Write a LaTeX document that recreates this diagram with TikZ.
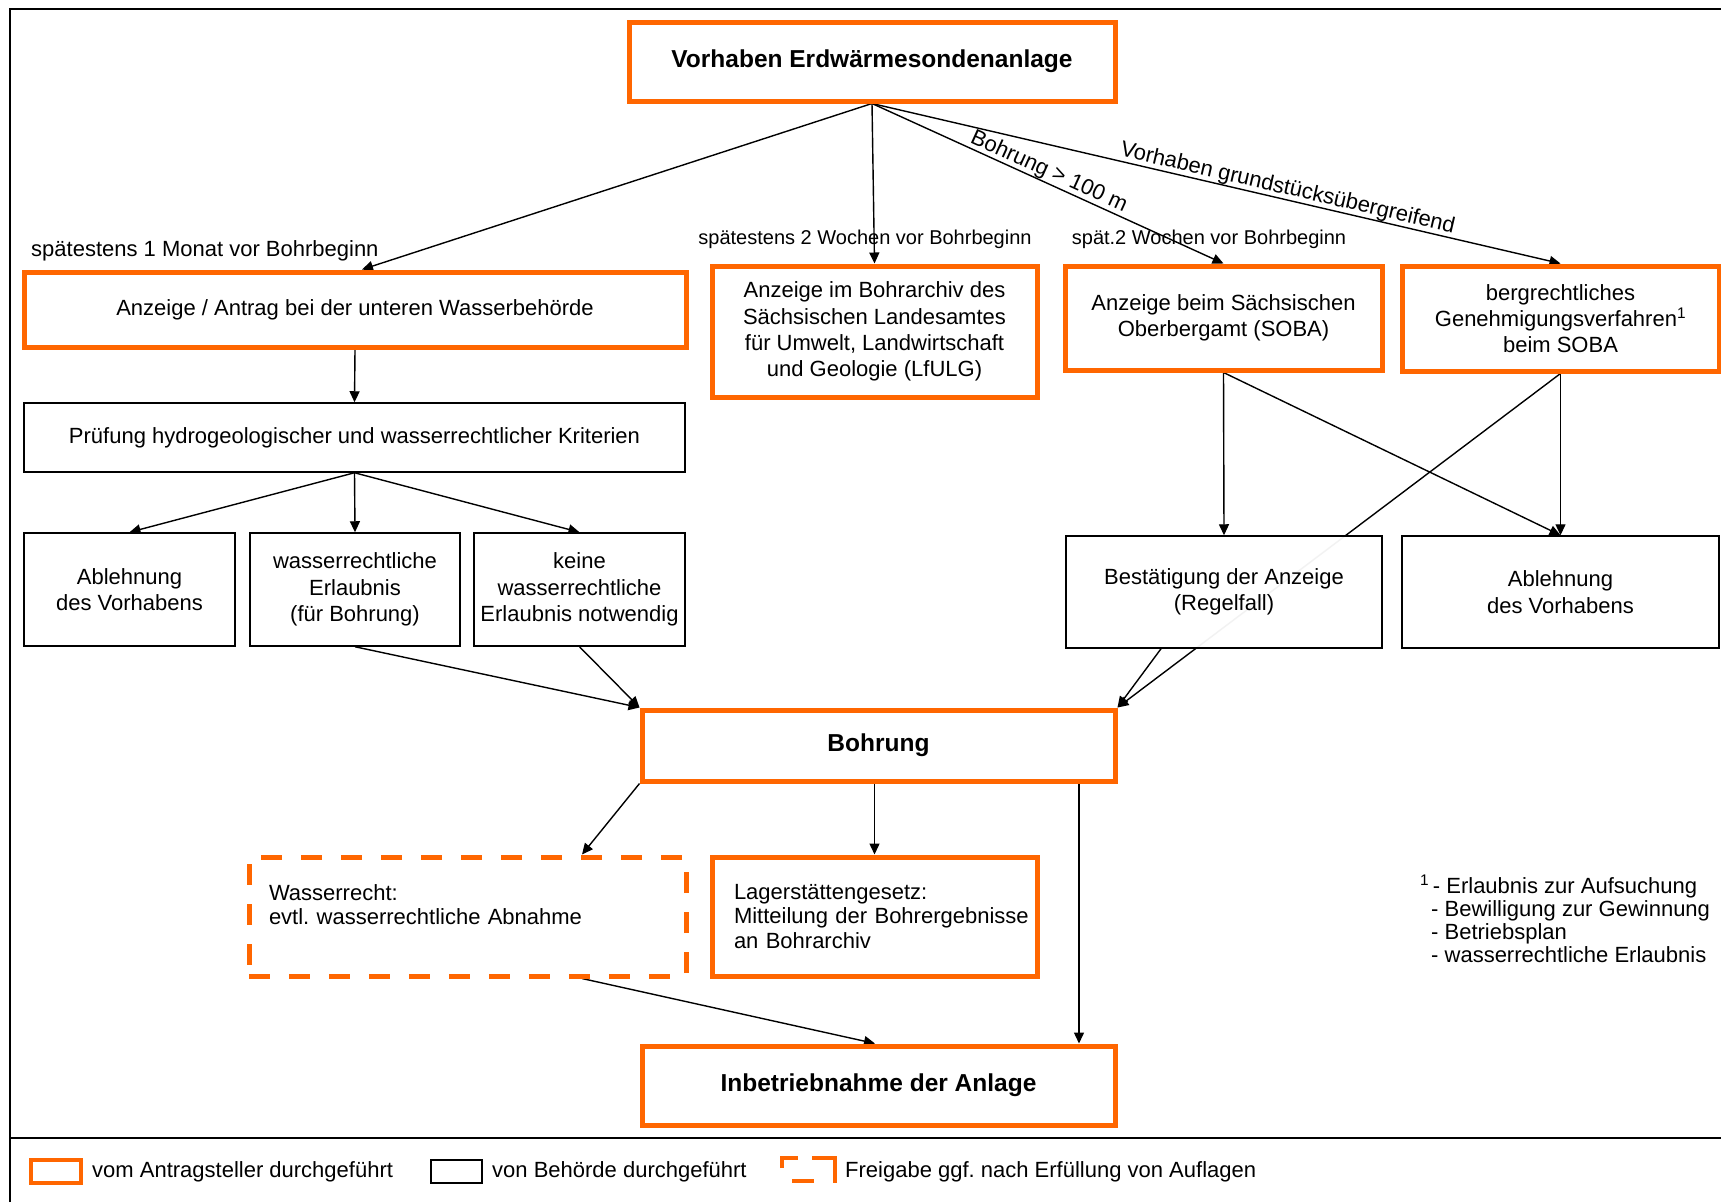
\documentclass[tikz,border=0pt]{standalone}
\usepackage{fontspec}
\setmainfont{Liberation Sans}
\usetikzlibrary{arrows.meta,backgrounds}
\definecolor{org}{HTML}{FF6600}
\frenchspacing
\begin{document}
\begin{tikzpicture}[x=1pt,y=-1pt,
  every node/.style={font=\fontsize{22}{26.3}\selectfont},
  obox/.style={draw=org, line width=5pt, fill=white, inner sep=0pt, align=center},
  kbox/.style={draw=black, line width=1.5pt, fill=white, inner sep=0pt, align=center},
  dbox/.style={draw=org, line width=5pt, dash pattern=on 21pt off 19pt, fill=white, inner sep=0pt},
  btxt/.style={font=\fontsize{24.5}{29}\selectfont\bfseries},
  arr/.style={-{Triangle[length=11pt,width=10pt]}, line width=1.4pt, draw=black},
  elab/.style={font=\fontsize{20}{24}\selectfont, inner sep=0pt},
  slab/.style={font=\fontsize{22}{24}\selectfont, inner sep=0pt},
]
\useasboundingbox (0,0) rectangle (1721,1202);

% boxes
\node[obox, btxt, minimum width=486pt, minimum height=79pt] (top) at (872,61.5) {Vorhaben Erdwärmesondenanlage};
\node[obox, minimum width=662pt, minimum height=75pt] (antrag) at (355,309.5) {Anzeige / Antrag bei der unteren Wasserbehörde};
\node[obox, minimum width=325pt, minimum height=131pt] (archiv) at (874.5,331.5) {Anzeige im Bohrarchiv des\\Sächsischen Landesamtes\\für Umwelt, Landwirtschaft\\und Geologie (LfULG)};
\node[obox, minimum width=317pt, minimum height=104pt] (soba) at (1223.5,318) {Anzeige beim Sächsischen\\Oberbergamt (SOBA)};
\node[obox, minimum width=317pt, minimum height=105pt] (berg) at (1560.5,318.5) {bergrechtliches\\Genehmigungsverfahren\textsuperscript{1}\\beim SOBA};

\node[kbox, minimum width=661pt, minimum height=69pt] (pruef) at (354.5,437.5) {Prüfung hydrogeologischer und wasserrechtlicher Kriterien};
\node[kbox, minimum width=211pt, minimum height=113pt] (abl1) at (129.5,589.5) {Ablehnung\\des Vorhabens};
\node[kbox, minimum width=210pt, minimum height=113pt] (erl) at (355,589.5) {wasserrechtliche\\Erlaubnis\\(für Bohrung)};
\node[kbox, minimum width=211pt, minimum height=113pt] (keine) at (579.5,589.5) {keine\\wasserrechtliche\\Erlaubnis notwendig};

\node[kbox, minimum width=316pt, minimum height=112pt, fill opacity=0.95, text opacity=1] (best) at (1224,592) {Bestätigung der Anzeige\\(Regelfall)};
\node[kbox, minimum width=317pt, minimum height=112pt] (abl2) at (1560.5,592) {Ablehnung\\des Vorhabens};

\node[obox, btxt, minimum width=473pt, minimum height=71pt] (bohr) at (878.5,745.5) {Bohrung};
\node[dbox, minimum width=437pt, minimum height=119pt, text width=397pt, align=left, font=\fontsize{22}{24.2}\selectfont] (wass) at (467.5,916.5) {Wasserrecht:\\evtl. wasserrechtliche Abnahme\\\mbox{}};
\node[obox, minimum width=325pt, minimum height=119pt, text width=281pt, align=left, font=\fontsize{22}{24.2}\selectfont] (lager) at (874.5,916.5) {\mbox{Lagerstättengesetz:}\\\mbox{Mitteilung der Bohrergebnisse}\\\mbox{an Bohrarchiv}};
\node[obox, btxt, minimum width=473pt, minimum height=79pt] (inbe) at (878.5,1085.5) {Inbetriebnahme der Anlage};

% labels
\node[anchor=west, inner sep=0pt] (l1) at (31,251) {spätestens 1 Monat vor Bohrbeginn};
\node[elab] (l2) at (865,239) {spätestens 2 Wochen vor Bohrbeginn};
\node[elab] (l3) at (1209,239) {spät.2 Wochen vor Bohrbeginn};

% footnote
\node[anchor=north west, align=left, inner sep=0pt, font=\fontsize{22}{23.2}\selectfont] (fn) at (1420,875)
  {\textsuperscript{1}\,- Erlaubnis zur Aufsuchung\\\hspace*{11pt}- Bewilligung zur Gewinnung\\\hspace*{11pt}- Betriebsplan\\\hspace*{11pt}- wasserrechtliche Erlaubnis};

% frame
\draw[line width=2.8pt] (10,1202) -- (10,9) -- (1721,9);
\draw[line width=2pt] (10,1138) -- (1721,1138);

% legend
\node[draw=org, line width=4.5pt, minimum width=50pt, minimum height=23pt, inner sep=0pt] (lg1) at (56,1171.5) {};
\node[anchor=west, inner sep=0pt] (lt1) at (92,1172) {vom Antragsteller durchgeführt};
\node[draw=black, line width=1.5pt, minimum width=51pt, minimum height=23pt, inner sep=0pt] (lg2) at (456.5,1171.5) {};
\node[anchor=west, inner sep=0pt] (lt2) at (492,1172) {von Behörde durchgeführt};
\draw[org, line width=4.5pt] (782,1168) -- (782,1158) -- (798,1158);
\draw[org, line width=4.5pt] (812,1158) -- (835,1158) -- (835,1183);
\draw[org, line width=4.5pt] (792,1181) -- (814,1181);
\node[anchor=west, inner sep=0pt] (lt3) at (845,1172) {Freigabe ggf. nach Erfüllung von Auflagen};

% connectors
\begin{scope}[on background layer]
\fill[white] (0,0) rectangle (1721,1202);
\draw[arr] (top.south) -- ([xshift=7pt]antrag.north);
\draw[arr] (top.south) -- (archiv.north);
\draw[arr] (top.south) -- node[slab, sloped, above, pos=0.49] (lbohr) {Bohrung > 100 m} (soba.north);
\draw[arr] (top.south) -- node[slab, sloped, above, pos=0.6] (lgrund) {Vorhaben grundstücksübergreifend} (berg.north);
\draw[arr] (antrag.south) -- (pruef.north);
\draw[arr] (pruef.south) -- (abl1.north);
\draw[arr] (pruef.south) -- (erl.north);
\draw[arr] (pruef.south) -- (keine.north);
\draw[arr] (erl.south) -- (bohr.north west);
\draw[arr] (keine.south) -- (bohr.north west);
\draw[arr] (soba.south) -- (best.north);
\draw[arr] (soba.south) -- (abl2.north);
\draw[arr] (berg.south) -- (abl2.north);
\draw[arr] (berg.south) -- (bohr.north east);
\draw[arr] ([xshift=-63pt]best.south) -- (bohr.north east);
\draw[arr] (bohr.south west) -- ([xshift=114.5pt]wass.north);
\draw[arr] (lager.north |- bohr.south) -- (lager.north);
\draw[arr] ([xshift=200.5pt]bohr.south) -- ([xshift=200.5pt]inbe.north);
\draw[arr] ([xshift=114.5pt]wass.south) -- ([xshift=-3.5pt]inbe.north);
\end{scope}
\end{tikzpicture}
\end{document}
